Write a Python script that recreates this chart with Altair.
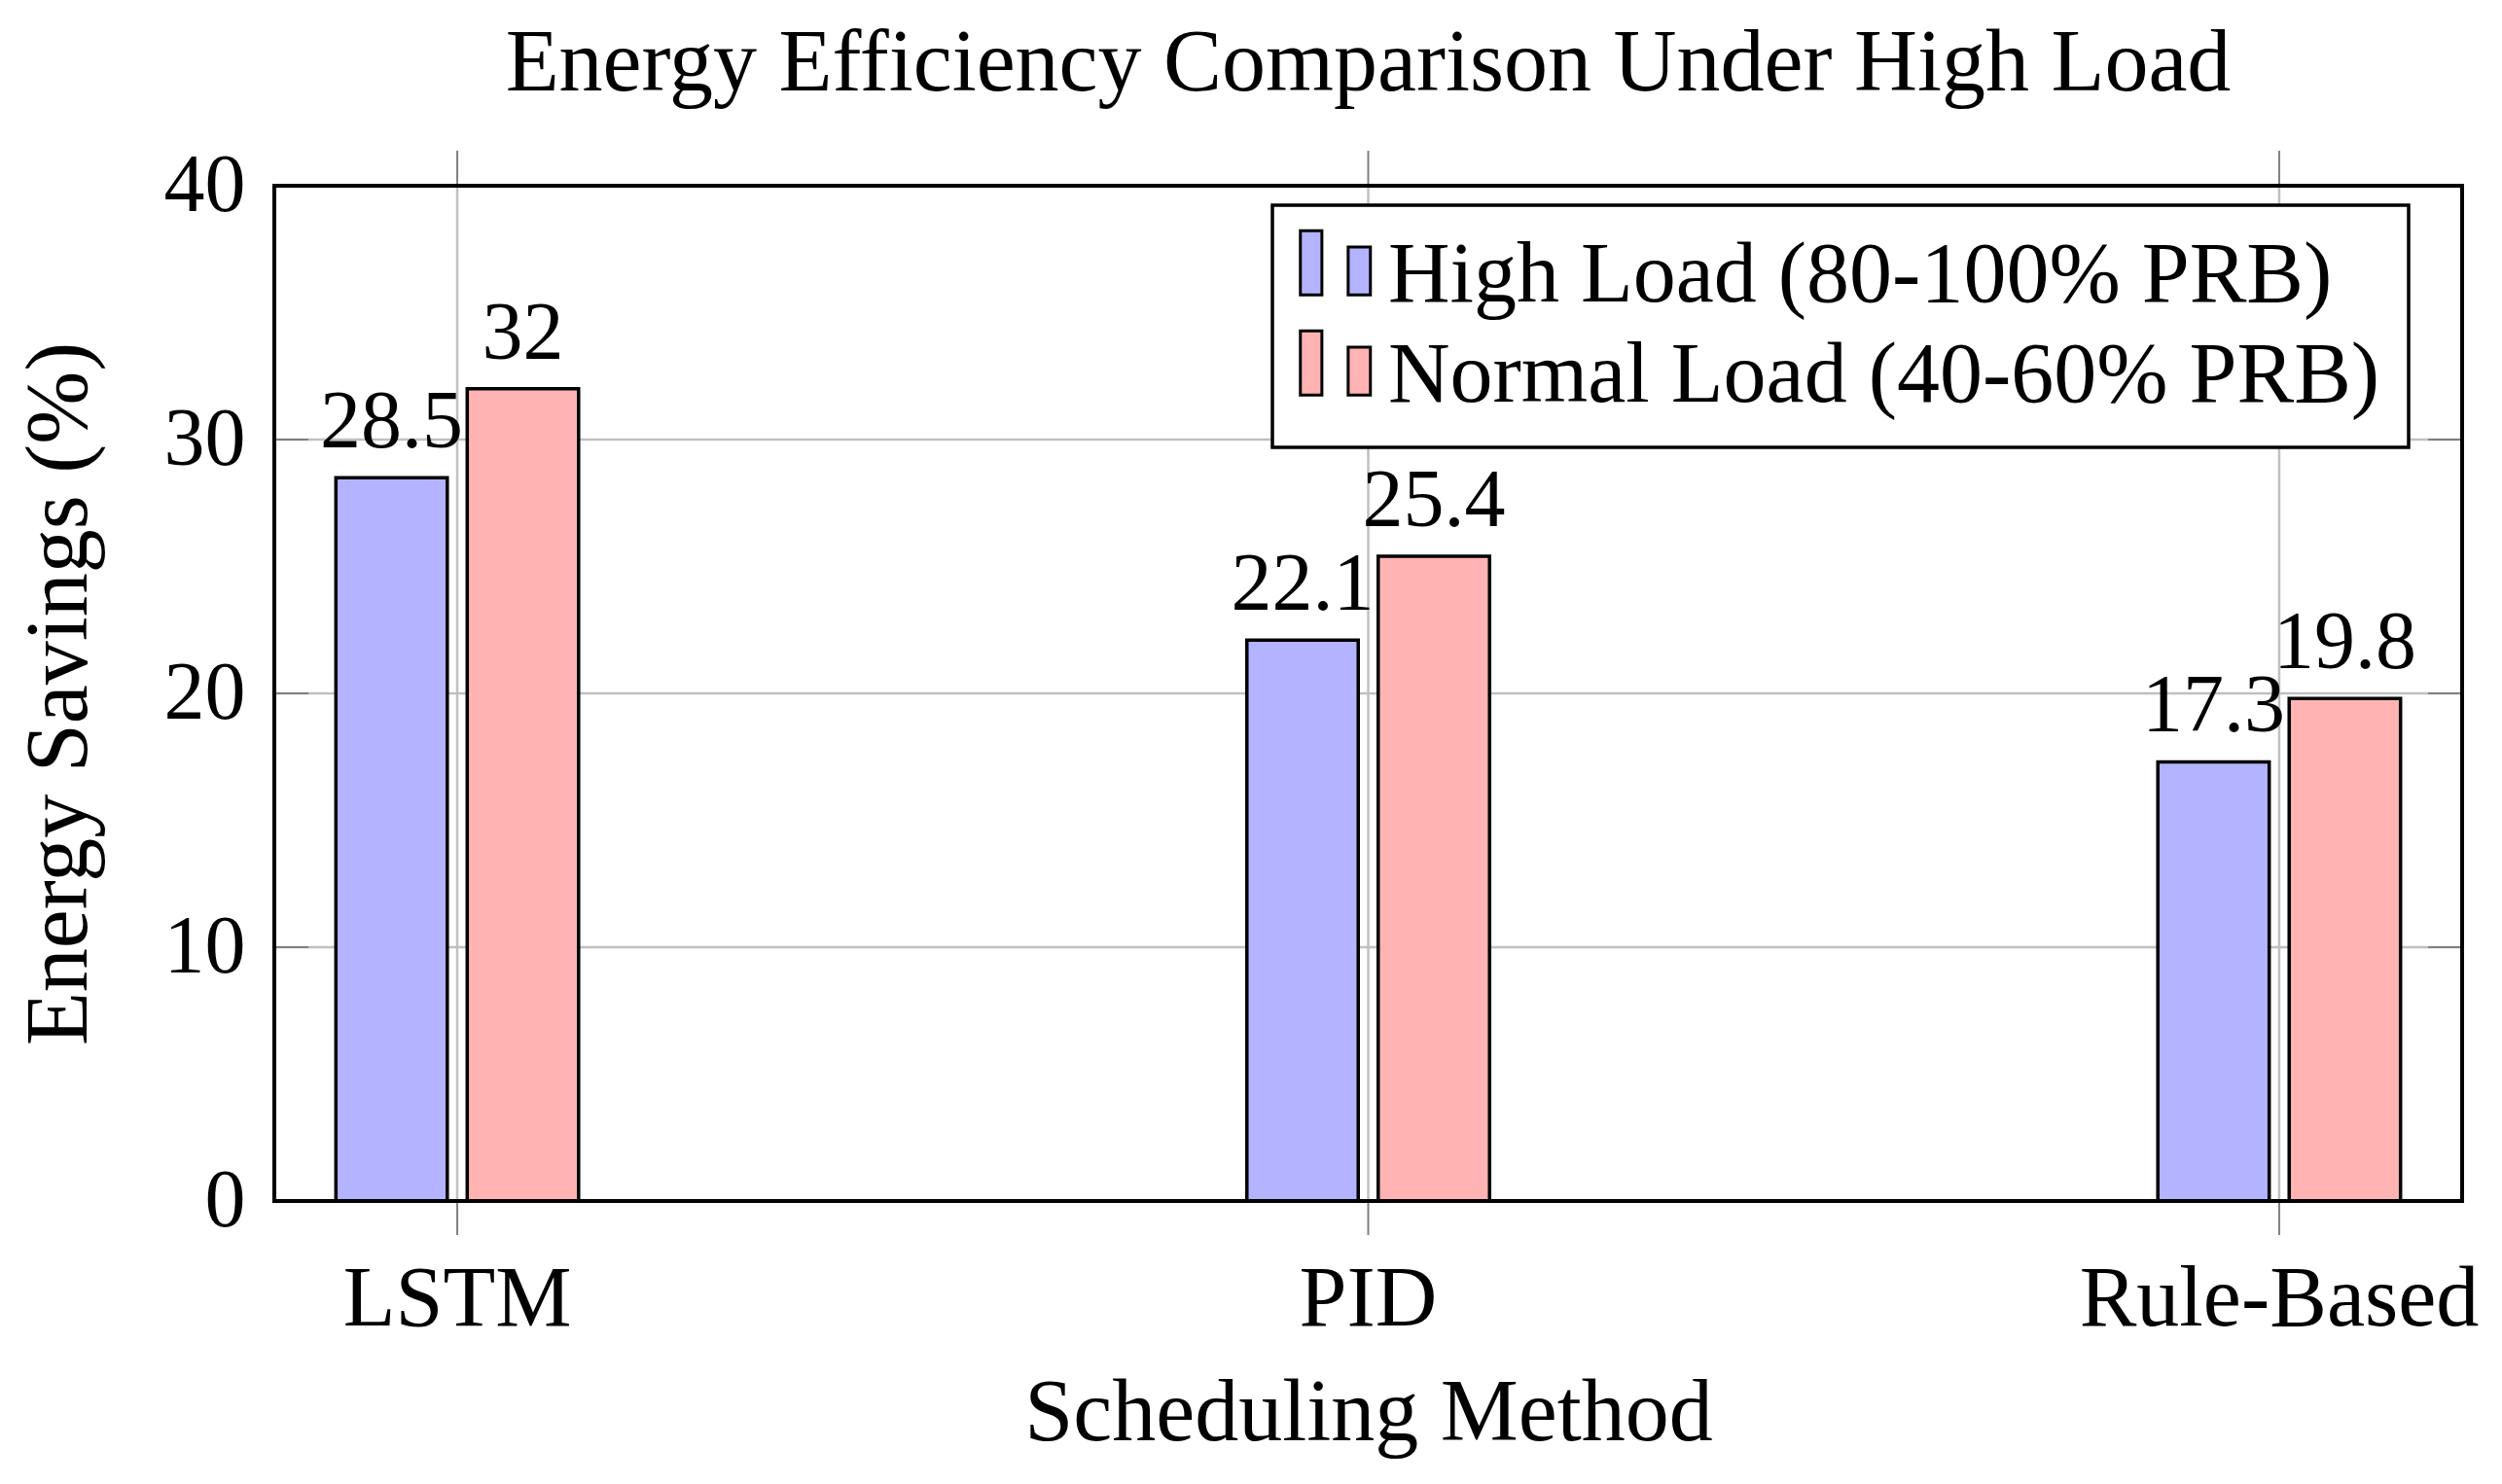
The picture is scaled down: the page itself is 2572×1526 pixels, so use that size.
import altair as alt
import pandas as pd

# ---- data ----
methods = ["LSTM", "PID", "Rule-Based"]
series_names = ["High Load (80-100% PRB)", "Normal Load (40-60% PRB)"]
high_load = [28.5, 22.1, 17.3]
normal_load = [32, 25.4, 19.8]
y_ticks = [0, 10, 20, 30, 40]
y_grid = [10, 20, 30]
colors = ["#b3b3ff", "#ffb3b3"]

rows = []
for m, h, n in zip(methods, high_load, normal_load):
    rows.append({"method": m, "series": series_names[0], "value": h})
    rows.append({"method": m, "series": series_names[1], "value": n})
df = pd.DataFrame(rows)
cat_df = pd.DataFrame({"method": methods})
grid_df = pd.DataFrame({"value": y_grid})
one_df = pd.DataFrame({"a": [0]})

W, H = 2249, 1044
FONT = "Liberation Serif"

xscale = alt.Scale(domain=methods, paddingInner=0.7336, paddingOuter=0.0676)
yscale = alt.Scale(domain=[0, 40], nice=False, zero=True)
offscale = alt.Scale(domain=series_names, paddingInner=0.152, paddingOuter=0)

xaxis = alt.Axis(title="Scheduling Method", labelFont=FONT, labelFontSize=88,
                 labelColor="black", labelPadding=57, labelAngle=0, labelLimit=2000,
                 ticks=False, tickSize=0, domain=False, grid=False,
                 titleFont=FONT, titleFontSize=90, titleFontWeight="normal",
                 titleColor="black", titleX=W / 2, titleY=245,
                 titleBaseline="alphabetic", titleAlign="center")
yaxis = alt.Axis(title="Energy Savings (%)", values=y_ticks, labelFont=FONT,
                 labelFontSize=84, labelColor="black", labelPadding=30,
                 ticks=False, tickSize=0, domain=False, grid=False,
                 titleFont=FONT, titleFontSize=90, titleFontWeight="normal",
                 titleColor="black", titleX=-194, titleY=H / 2, titleAngle=270,
                 titleBaseline="alphabetic", titleAlign="center")

X = alt.X("method:N", scale=xscale, sort=methods, axis=xaxis)
Y = alt.Y("value:Q", scale=yscale, axis=yaxis)

LEGEND_PATH = ("M-1.18,-1.25 H-0.59 V0.51 H-1.18 Z "
               "M0.13,-0.80 H0.74 V0.51 H0.13 Z")

hgrid = alt.Chart(grid_df).mark_rule(color="#c0c0c0", strokeWidth=2.5).encode(
    y=Y, x=alt.value(0), x2=alt.value(W),
)
vgrid = alt.Chart(cat_df).mark_rule(color="#c0c0c0", strokeWidth=2.5).encode(
    x=X, y=alt.value(0), y2=alt.value(H),
)
ytick_l = alt.Chart(grid_df).mark_rule(color="#808080", strokeWidth=2).encode(
    y=Y, x=alt.value(0), x2=alt.value(35),
)
ytick_r = alt.Chart(grid_df).mark_rule(color="#808080", strokeWidth=2).encode(
    y=Y, x=alt.value(W - 35), x2=alt.value(W),
)
xtick_t = alt.Chart(cat_df).mark_rule(color="#808080", strokeWidth=2).encode(
    x=X, y=alt.value(-36), y2=alt.value(0),
)
xtick_b = alt.Chart(cat_df).mark_rule(color="#808080", strokeWidth=2).encode(
    x=X, y=alt.value(H), y2=alt.value(H + 35),
)

bars = alt.Chart(df).mark_bar(stroke="black", strokeWidth=3.5, opacity=1).encode(
    x=X,
    xOffset=alt.XOffset("series:N", scale=offscale, sort=series_names),
    y=Y,
    fill=alt.Fill("series:N", scale=alt.Scale(domain=series_names, range=colors),
                  legend=alt.Legend(title=None, orient="none", legendX=1026, legendY=20,
                                    symbolType=LEGEND_PATH, symbolSize=5625,
                                    symbolStrokeColor="black", symbolStrokeWidth=3,
                                    symbolOpacity=1,
                                    labelFont=FONT, labelFontSize=88, labelColor="black",
                                    labelLimit=3000, labelOffset=2, rowPadding=6,
                                    padding=29, fillColor="white", strokeColor="black")),
)

labels = alt.Chart(df).mark_text(font=FONT, fontSize=84, color="black",
                                 baseline="alphabetic", align="center", dy=-31).encode(
    x=X,
    xOffset=alt.XOffset("series:N", scale=offscale, sort=series_names),
    y=Y,
    text=alt.Text("value:Q", format="~g"),
)

frame = alt.Chart(one_df).mark_rect(fill="transparent", stroke="black", strokeWidth=4).encode(
    x=alt.value(0), x2=alt.value(W), y=alt.value(0), y2=alt.value(H),
)

chart = alt.layer(hgrid, vgrid, ytick_l, ytick_r, xtick_t, xtick_b, bars, labels, frame).properties(
    width=W, height=H,
    title=alt.TitleParams("Energy Efficiency Comparison Under High Load", font=FONT,
                          fontSize=90, fontWeight="normal", color="black",
                          anchor="middle", baseline="alphabetic", offset=-34),
    autosize=alt.AutoSizeParams(type="none"),
    padding={"left": 274, "top": 183, "right": 25, "bottom": 270},
).configure_view(stroke="transparent").configure_legend(strokeWidth=3.5, cornerRadius=0)

chart.save("out.html", embed_options={"renderer": "svg", "actions": False})
